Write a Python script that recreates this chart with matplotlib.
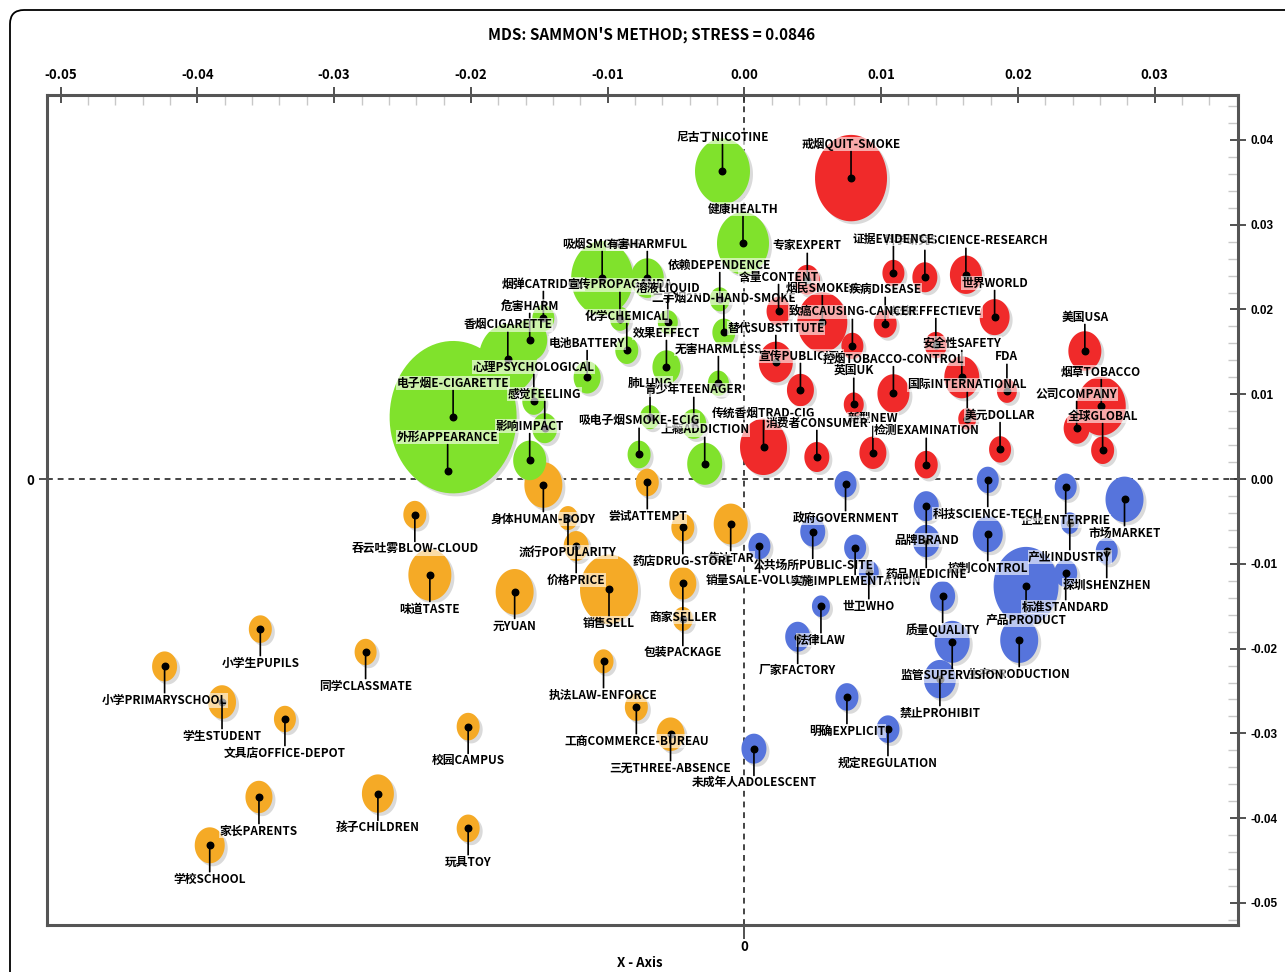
import numpy as np
import matplotlib
matplotlib.use('Agg')
import matplotlib.pyplot as plt
from matplotlib.path import Path
from matplotlib.patches import FancyBboxPatch
from matplotlib.transforms import offset_copy, IdentityTransform
from matplotlib.ticker import MultipleLocator, FuncFormatter

FONT = ['Noto Sans CJK SC', 'DejaVu Sans']
plt.rcParams['font.family'] = FONT

# --- green cluster (e-cigarette / health) ---
green_labels = ['吸烟SMOKING', '有害HARMFUL', '尼古丁NICOTINE', '健康HEALTH', '烟弹CATRIDGE',
                '宣传PROPAGANDA', '依赖DEPENDENCE', '二手烟2ND-HAND-SMOKE', '溶液LIQUID', '危害HARM',
                '香烟CIGARETTE', '化学CHEMICAL', '效果EFFECT', '电池BATTERY', '心理PSYCHOLOGICAL',
                '无害HARMLESS', '电子烟E-CIGARETTE', '肺LUNG', '青少年TEENAGER', '感觉FEELING',
                '上瘾ADDICTION', '吸电子烟SMOKE-ECIG', '影响IMPACT', '外形APPEARANCE']
green_x = [-0.0104, -0.0071, -0.0016, -0.0001, -0.0147, -0.0091, -0.0018, -0.0015, -0.0056, -0.0157,
           -0.0173, -0.0086, -0.0057, -0.0115, -0.0154, -0.0019, -0.0213, -0.0069, -0.0037, -0.0146,
           -0.0029, -0.0077, -0.0157, -0.0217]
green_y = [0.0237, 0.0237, 0.0363, 0.0278, 0.0190, 0.0189, 0.0212, 0.0173, 0.0185, 0.0164,
           0.0142, 0.0152, 0.0132, 0.0120, 0.0092, 0.0113, 0.0073, 0.0073, 0.0065, 0.0060,
           0.0018, 0.0029, 0.0022, 0.0009]
green_size = [62, 33, 55, 52, 22, 20, 20, 23, 20, 35,
              58, 23, 28, 27, 23, 21, 127, 20, 25, 25,
              35, 23, 33, 30]

# --- red cluster (tobacco control / international) ---
red_labels = ['戒烟QUIT-SMOKE', '', '科学研究SCIENCE-RESEARCH', '证据EVIDENCE', '专家EXPERT',
              '含量CONTENT', '烟民SMOKER', '疾病DISEASE', '世界WORLD', '有效EFFECTIEVE',
              '致癌CAUSING-CANCER', '替代SUBSTITUTE', '安全性SAFETY', '宣传PUBLICITY', '控烟TOBACCO-CONTROL',
              '英国UK', 'FDA', '国际INTERNATIONAL', '传统香烟TRAD-CIG', '美元DOLLAR',
              '新型NEW', '消费者CONSUMER', '检测EXAMINATION', '美国USA', '烟草TOBACCO',
              '公司COMPANY', '全球GLOBAL']
red_x = [0.0078, 0.0132, 0.0162, 0.0109, 0.0046, 0.0025, 0.0057, 0.0103, 0.0183, 0.0140,
         0.0079, 0.0023, 0.0159, 0.0041, 0.0109, 0.0080, 0.0192, 0.0163, 0.0014, 0.0187,
         0.0094, 0.0053, 0.0133, 0.0249, 0.0261, 0.0243, 0.0262]
red_y = [0.0355, 0.0238, 0.0241, 0.0243, 0.0235, 0.0198, 0.0185, 0.0183, 0.0191, 0.0158,
         0.0157, 0.0138, 0.0120, 0.0105, 0.0101, 0.0088, 0.0104, 0.0071, 0.0038, 0.0035,
         0.0031, 0.0026, 0.0017, 0.0151, 0.0086, 0.0060, 0.0034]
red_size = [72, 25, 32, 22, 25, 24, 50, 23, 30, 22,
            22, 34, 35, 27, 32, 20, 20, 18, 47, 22,
            27, 25, 23, 33, 49, 26, 23]

# --- blue cluster (industry / regulation) ---
blue_labels = ['政府GOVERNMENT', '企业ENTERPRIE', '科技SCIENCE-TECH', '市场MARKET', '品牌BRAND',
               '产业INDUSTRY', '控制CONTROL', '公共场所PUBLIC-SITE', '销量SALE-VOLUME', '实施IMPLEMENTATION',
               '药品MEDICINE', '深圳SHENZHEN', '世卫WHO', '产品PRODUCT', '标准STANDARD',
               '质量QUALITY', '法律LAW', '厂家FACTORY', '生产PRODUCTION', '监管SUPERVISION',
               '禁止PROHIBIT', '明确EXPLICIT', '规定REGULATION', '未成年人ADOLESCENT']
blue_x = [0.0074, 0.0235, 0.0178, 0.0278, 0.0133, 0.0238, 0.0178, 0.0050, 0.0011, 0.0081,
          0.0133, 0.0265, 0.0091, 0.0206, 0.0235, 0.0145, 0.0056, 0.0039, 0.0201, 0.0152,
          0.0143, 0.0075, 0.0105, 0.0007]
blue_y = [-0.0006, -0.0009, -0.0001, -0.0024, -0.0032, -0.0052, -0.0065, -0.0062, -0.0079, -0.0081,
          -0.0073, -0.0085, -0.0110, -0.0126, -0.0111, -0.0138, -0.0150, -0.0186, -0.0190, -0.0192,
          -0.0236, -0.0257, -0.0295, -0.0318]
blue_size = [22, 22, 22, 38, 25, 18, 30, 25, 22, 22,
             27, 22, 20, 65, 23, 25, 18, 25, 38, 35,
             32, 23, 23, 25]

# --- orange cluster (market / school) ---
orange_labels = ['身体HUMAN-BODY', '尝试ATTEMPT', '吞云吐雾BLOW-CLOUD', '流行POPULARITY', '焦油TAR',
                 '药店DRUG-STORE', '价格PRICE', '味道TASTE', '商家SELLER', '销售SELL',
                 '元YUAN', '包装PACKAGE', '执法LAW-ENFORCE', '工商COMMERCE-BUREAU', '三无THREE-ABSENCE',
                 '小学生PUPILS', '小学PRIMARYSCHOOL', '学生STUDENT', '文具店OFFICE-DEPOT', '同学CLASSMATE',
                 '校园CAMPUS', '家长PARENTS', '孩子CHILDREN', '玩具TOY', '学校SCHOOL']
orange_x = [-0.0147, -0.0071, -0.0241, -0.0129, -0.0010, -0.0045, -0.0123, -0.0230, -0.0045, -0.0099,
            -0.0168, -0.0045, -0.0103, -0.0079, -0.0054, -0.0354, -0.0424, -0.0382, -0.0336, -0.0277,
            -0.0202, -0.0355, -0.0268, -0.0202, -0.0391]
orange_y = [-0.0007, -0.0004, -0.0042, -0.0046, -0.0053, -0.0057, -0.0079, -0.0113, -0.0123, -0.0130,
            -0.0133, -0.0165, -0.0215, -0.0269, -0.0301, -0.0177, -0.0221, -0.0263, -0.0283, -0.0204,
            -0.0292, -0.0375, -0.0371, -0.0412, -0.0432]
orange_size = [38, 23, 23, 20, 34, 23, 25, 43, 27, 58,
               38, 20, 20, 23, 28, 23, 25, 28, 22, 22,
               23, 27, 32, 23, 30]

groups = [
    (green_labels, green_x, green_y, green_size, '#80E22C'),
    (red_labels, red_x, red_y, red_size, '#F02A2A'),
    (blue_labels, blue_x, blue_y, blue_size, '#5674DC'),
    (orange_labels, orange_x, orange_y, orange_size, '#F5AA26'),
]

fig = plt.figure(figsize=(12.85, 9.72), dpi=100)
ax = fig.add_axes([47 / 1285, 47 / 972, 1191 / 1285, 830 / 972])
ax.set_xlim(-0.0510, 0.0361)
ax.set_ylim(-0.0526, 0.0453)

# slightly tall ellipse marker for the bubbles
t = np.linspace(0, 2 * np.pi, 90)
ell = Path(np.column_stack([np.cos(t) / 1.2, np.sin(t)]), closed=True)
shadow_tr = offset_copy(ax.transData, fig=fig, x=3, y=-3, units='dots')

allx = np.concatenate([g[1] for g in groups])
ally = np.concatenate([g[2] for g in groups])
alls = np.concatenate([g[3] for g in groups]).astype(float)
allc = np.concatenate([[g[4]] * len(g[1]) for g in groups])
order = np.argsort(-alls, kind='stable')
msize = (alls * 1.2 * 0.72) ** 2
ax.scatter(allx[order], ally[order], s=msize[order], marker=ell, c='#dadada',
           linewidths=0, zorder=2, transform=shadow_tr)
ax.scatter(allx[order], ally[order], s=msize[order], marker=ell, c=list(allc[order]),
           linewidths=0, zorder=3)
ax.scatter(allx, ally, s=22, c='black', zorder=5)

for labels, xs, ys, _, _ in groups:
    for lab, x, y in zip(labels, xs, ys):
        dy = 24.5 if y >= 0 else -24.5
        ax.annotate(lab, (x, y), xytext=(0, dy), textcoords='offset points',
                    ha='center', va='center', fontsize=8.5, fontweight='bold',
                    bbox=dict(boxstyle='square,pad=0.05', fc='white', ec='none', alpha=0.6),
                    arrowprops=dict(arrowstyle='-', lw=1.2, color='black', shrinkA=0, shrinkB=0),
                    zorder=6)

ax.axhline(0, color='#444444', lw=1.4, ls=(0, (3, 2.5)), zorder=1)
ax.axvline(0, color='#444444', lw=1.4, ls=(0, (3, 2.5)), zorder=1)

fmt = FuncFormatter(lambda v, p: f'{round(v, 2):.2f}'.replace('-0.00', '0.00'))
ax.xaxis.tick_top()
ax.yaxis.tick_right()
for a in (ax.xaxis, ax.yaxis):
    a.set_major_locator(MultipleLocator(0.01))
    a.set_minor_locator(MultipleLocator(0.002))
    a.set_major_formatter(fmt)
ax.tick_params(which='major', direction='inout', length=12, width=1.2, color='#333333')
ax.tick_params(which='minor', direction='in', length=7, width=1, color='#c8c8c8')
ax.tick_params(axis='x', labelsize=9.5, pad=3)
ax.tick_params(axis='y', labelsize=8.5, pad=3, labelfontfamily=['Liberation Sans', 'DejaVu Sans'])
plt.setp(ax.get_xticklabels() + ax.get_yticklabels(), fontweight='bold')
for s in ax.spines.values():
    s.set_linewidth(2.2)
    s.set_color('#555555')

secx = ax.secondary_xaxis('bottom')
secx.set_xticks([0])
secx.set_xticklabels(['0'], fontsize=9.5, fontweight='bold')
secx.tick_params(direction='out', length=10, width=1.2, color='#333333', pad=1)
secy = ax.secondary_yaxis('left')
secy.set_yticks([0])
secy.set_yticklabels(['0'], fontsize=9.5, fontweight='bold')
secy.tick_params(direction='out', length=6, width=1.2, color='#333333')

fig.text(652 / 1285, 1 - 35 / 972, "MDS: SAMMON'S METHOD; STRESS = 0.0846",
         ha='center', va='center', fontsize=11, fontweight='bold')
fig.text(640 / 1285, 1 - 963 / 972, 'X - Axis', ha='center', va='center',
         fontsize=9.5, fontweight='bold')

frame = FancyBboxPatch((10, -40), 1400, 1002, boxstyle='round,pad=0,rounding_size=14',
                       transform=IdentityTransform(), fill=False, ec='black', lw=1.3)
fig.add_artist(frame)

fig.savefig('out.png', dpi=100)
